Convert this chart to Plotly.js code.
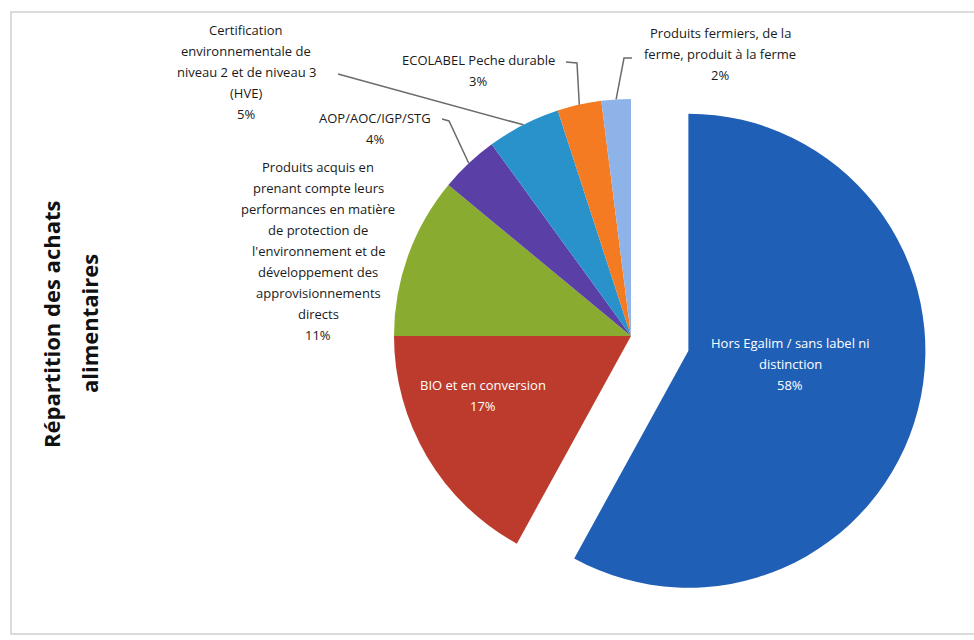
<!DOCTYPE html>
<html>
<head>
<meta charset="utf-8">
<script src="https://cdn.plot.ly/plotly-3.0.1.min.js"></script>
<style>html,body{margin:0;padding:0;background:#fff;}#chart{width:974px;height:640px;}</style>
</head>
<body>
<div id="chart"></div>
<script>
// ---- data ----
const categories = [
  "Hors Egalim / sans label ni distinction",
  "BIO et en conversion",
  "Produits acquis en prenant compte leurs performances en matière de protection de l'environnement et de développement des approvisionnements directs",
  "AOP/AOC/IGP/STG",
  "Certification environnementale de niveau 2 et de niveau 3 (HVE)",
  "ECOLABEL Peche durable",
  "Produits fermiers, de la ferme, produit à la ferme"
];
const shares = [58, 17, 11, 4, 5, 3, 2];
const labelLines = [
  ["Hors Egalim / sans label ni", "distinction"],
  ["BIO et en conversion"],
  ["Produits acquis en", "prenant compte leurs", "performances en matière", "de protection de", "l'environnement et de", "développement des", "approvisionnements", "directs"],
  ["AOP/AOC/IGP/STG"],
  ["Certification", "environnementale de", "niveau 2 et de niveau 3", "(HVE)"],
  ["ECOLABEL Peche durable"],
  ["Produits fermiers, de la", "ferme, produit à la ferme"]
];
const chartTitleLines = ["Répartition des achats", "alimentaires"];

// ---- style ----
const W = 974, H = 640;
const colors = ["#1f5fb6", "#bd3b2c", "#89ab30", "#5a3fa6", "#2a92cb", "#f47b22", "#8db3e8"];
const pulls = [0.25, 0, 0, 0, 0, 0, 0];
const dom = {x: [0.34369, 0.95200], y: [0.01211, 0.93789]};
// label placement (pixels): first line center, line gap
const labelPos = [
  {x: 790, y: 343, c: "#ffffff"},
  {x: 483, y: 385, c: "#ffffff"},
  {x: 318, y: 167, c: "#1a1a1a"},
  {x: 375, y: 118, c: "#1a1a1a"},
  {x: 246, y: 30,  c: "#1a1a1a"},
  {x: 478, y: 60,  c: "#1a1a1a"},
  {x: 720, y: 33,  c: "#1a1a1a"}
];
const lineGap = 21;
// leader line start points (pixels); end point is on slice edge
const leaderStart = {
  3: [[442, 119], [449, 121]],
  4: [[338, 74]],
  5: [[566, 62], [577, 63]],
  6: [[632, 58], [624, 58]]
};

const px = x => x / W;
const py = y => 1 - y / H;

// pie geometry from domain & pull (same as plotly)
const maxPull = Math.max(...pulls);
const rx = W * (dom.x[1] - dom.x[0]) / 2, ry = H * (dom.y[1] - dom.y[0]) / 2;
const R = Math.min(rx, ry) / (1 + maxPull);
const CX = W * (dom.x[0] + dom.x[1]) / 2;
const CY = H * (1 - dom.y[0]) - ry;
const total = shares.reduce((a, b) => a + b, 0);
function edgePoint(i) {
  let before = 0;
  for (let k = 0; k < i; k++) before += shares[k];
  const a = 2 * Math.PI * (before + shares[i] / 2) / total;
  const p = pulls[i] * R;
  return [CX + (R + p) * Math.sin(a), CY - (R + p) * Math.cos(a)];
}

const annotations = [];
labelLines.forEach((lines, i) => {
  const all = lines.concat([shares[i] + "%"]);
  all.forEach((t, j) => {
    annotations.push({
      xref: "paper", yref: "paper",
      x: px(labelPos[i].x), y: py(labelPos[i].y + j * lineGap),
      xanchor: "center", yanchor: "middle",
      text: t, showarrow: false,
      font: {family: "Open Sans", size: 13, color: labelPos[i].c}
    });
  });
});
// vertical title
const titleX = [51, 89];
chartTitleLines.forEach((t, j) => {
  annotations.push({
    xref: "paper", yref: "paper",
    x: px(titleX[j]), y: py(324),
    xanchor: "center", yanchor: "middle",
    text: "<b>" + t + "</b>", textangle: -90, showarrow: false,
    font: {family: "Open Sans", size: 22, color: "#111111"}
  });
});

const shapes = [{
  type: "rect", xref: "paper", yref: "paper",
  x0: px(11), x1: px(990), y0: py(634), y1: py(12),
  line: {color: "#cfcfcf", width: 1.5}, fillcolor: "rgba(0,0,0,0)", layer: "below"
}];
Object.keys(leaderStart).forEach(k => {
  const i = +k;
  const pts = leaderStart[i].concat([edgePoint(i)]);
  const path = pts.map((p, j) => (j ? "L" : "M") + px(p[0]).toFixed(5) + "," + py(p[1]).toFixed(5)).join(" ");
  shapes.push({type: "path", xref: "paper", yref: "paper", path: path,
    line: {color: "#6b6b6b", width: 1.5}});
});

const trace = {
  type: "pie",
  labels: categories,
  values: shares,
  sort: false,
  direction: "clockwise",
  rotation: 0,
  pull: pulls,
  marker: {colors: colors, line: {width: 0}},
  textinfo: "none",
  hoverinfo: "label+percent",
  domain: dom,
  showlegend: false
};

const layout = {
  width: W, height: H,
  margin: {l: 0, r: 0, t: 0, b: 0},
  paper_bgcolor: "#ffffff",
  showlegend: false,
  annotations: annotations,
  shapes: shapes
};

Plotly.newPlot("chart", [trace], layout, {displayModeBar: false, staticPlot: true});
</script>
</body>
</html>
